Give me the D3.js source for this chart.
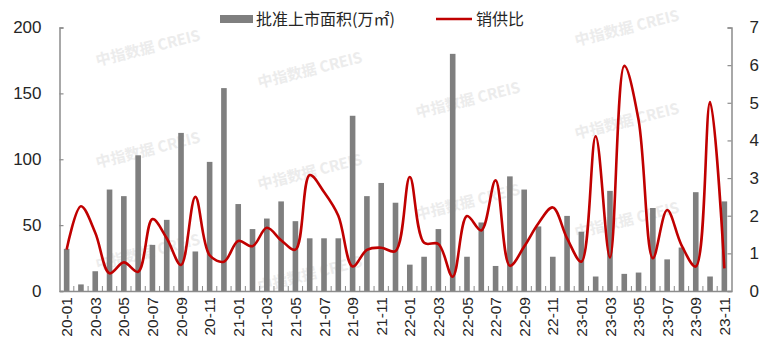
<!DOCTYPE html>
<html><head><meta charset="utf-8">
<script src="https://cdn.jsdelivr.net/npm/d3@7"></script>
<style>
html,body{margin:0;padding:0;background:#fff;}
svg{display:block;}
</style></head>
<body>
<svg id="chart" width="770" height="356"></svg>
<script>
const categories = ["20-01","20-02","20-03","20-04","20-05","20-06","20-07","20-08","20-09","20-10","20-11","20-12",
"21-01","21-02","21-03","21-04","21-05","21-06","21-07","21-08","21-09","21-10","21-11","21-12",
"22-01","22-02","22-03","22-04","22-05","22-06","22-07","22-08","22-09","22-10","22-11","22-12",
"23-01","23-02","23-03","23-04","23-05","23-06","23-07","23-08","23-09","23-10","23-11"];
const supplyArea = [32,5,15,77,72,103,35,54,120,30,98,154,
66,47,55,68,53,40,40,40,133,72,82,67,
20,26,47,180,26,52,19,87,77,49,26,57,
45,11,76,13,14,63,24,33,75,11,68];
const salesRatio = [1.1,2.25,1.55,0.47,0.76,0.51,1.91,1.4,0.69,2.5,0.95,0.78,
1.33,1.19,1.68,1.35,1.1,3.08,2.63,2.0,0.65,1.09,1.15,1.06,
3.03,1.28,1.25,0.38,1.99,1.61,2.94,0.67,1.18,1.8,2.22,1.4,
0.78,4.11,0.89,5.98,4.54,0.87,2.15,1.22,0.65,5.02,0.6];
const leftTicks = [0,50,100,150,200];
const rightTicks = [0,1,2,3,4,5,6,7];
const legendLabels = ["批准上市面积(万㎡)","销供比"];
const watermarkText = "中指数据 CREIS";

(function(){
const svg = d3.select("#chart");
const pL = 59.5, pR = 731.5, pT = 27.5, pB = 291;
const numFont = "'Liberation Sans', Arial, sans-serif";
const cjkFont = "'Noto Sans CJK SC', 'Microsoft YaHei', sans-serif";

// watermarks
const wm = [[148,48],[148,150],[148,252],[310,70],[310,172],[310,274],[468,100],[468,202],[627,28],[627,121],[627,220]];
svg.append("g").selectAll("text").data(wm).join("text")
  .attr("transform", d => `translate(${d[0]},${d[1]}) rotate(-14)`)
  .attr("text-anchor","middle").attr("dy","0.35em")
  .style("font-family", cjkFont).style("font-size","15px").style("font-weight","bold")
  .style("fill","#ececec").text(watermarkText);

const xc = d3.scaleBand().domain(categories).range([pL, pR]);
const yL = d3.scaleLinear().domain([0,200]).range([pB, pT]);
const yR = d3.scaleLinear().domain([0,7]).range([pB, pT]);

// bars
svg.append("g").selectAll("rect").data(categories).join("rect")
  .attr("x", (d) => xc(d) + xc.bandwidth()/2 - 2.8)
  .attr("width", 5.6)
  .attr("y", (d,i) => yL(supplyArea[i]))
  .attr("height", (d,i) => pB - yL(supplyArea[i]))
  .attr("fill", "#7f7f7f");

// axes
const axisColor = "#8c8c8c";
const gL = svg.append("g").attr("transform", `translate(${pL},0)`)
  .call(d3.axisLeft(yL).tickValues(leftTicks).tickSize(-4).tickPadding(18));
const gR = svg.append("g").attr("transform", `translate(${pR},0)`)
  .call(d3.axisRight(yR).tickValues(rightTicks).tickFormat(d3.format("d")).tickSize(-4).tickPadding(18));
[gL, gR].forEach(g => {
  g.select(".domain").attr("stroke", axisColor).attr("stroke-width", 1.5);
  g.selectAll(".tick line").attr("stroke", axisColor).attr("stroke-width", 1.2);
  g.selectAll(".tick text").style("font-family", numFont).style("font-size","17px").attr("fill","#262626");
});

// bottom axis
const gB = svg.append("g").attr("transform", `translate(0,${pB})`)
  .call(d3.axisBottom(xc).tickSize(0).tickFormat((d,i) => i % 2 === 0 ? d : ""));
gB.select(".domain").attr("stroke", axisColor).attr("stroke-width", 1.5);
gB.selectAll(".tick text")
  .attr("transform","rotate(-90)")
  .attr("x", -6).attr("y", 0).attr("dy","0.36em")
  .attr("text-anchor","end")
  .style("font-family", numFont).style("font-size","15.5px").attr("fill","#262626");
// category separators
svg.append("g").selectAll("line").data(categories.slice(1)).join("line")
  .attr("x1", d => xc(d)).attr("x2", d => xc(d))
  .attr("y1", pB).attr("y2", pB - 5)
  .attr("stroke", axisColor).attr("stroke-width", 1);

// line
const line = d3.line()
  .x((d,i) => xc(categories[i]) + xc.bandwidth()/2)
  .y(d => yR(d))
  .curve(d3.curveCatmullRom.alpha(0.5));
svg.append("path").datum(salesRatio)
  .attr("d", line).attr("fill","none")
  .attr("stroke","#c00000").attr("stroke-width",2.6);

// legend
const lg = svg.append("g");
lg.append("rect").attr("x",220).attr("y",15).attr("width",33).attr("height",8).attr("fill","#7f7f7f");
lg.append("text").attr("x",256).attr("y",19).attr("dy","0.35em")
  .style("font-family",cjkFont).style("font-size","16px").attr("fill","#262626").text(legendLabels[0]);
lg.append("line").attr("x1",436).attr("x2",472).attr("y1",19).attr("y2",19)
  .attr("stroke","#c00000").attr("stroke-width",2.6);
lg.append("text").attr("x",476).attr("y",19).attr("dy","0.35em")
  .style("font-family",cjkFont).style("font-size","16px").attr("fill","#262626").text(legendLabels[1]);
})();
</script>
</body></html>
